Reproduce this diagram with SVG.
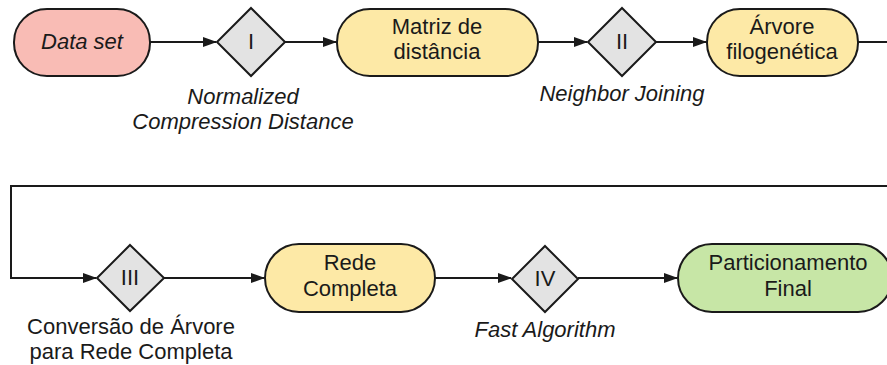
<svg xmlns="http://www.w3.org/2000/svg" width="887" height="365" viewBox="0 0 887 365">
  <style>
    .pill { stroke: #1a1a1a; stroke-width: 2; }
    .start { fill: #f9bcb5; }
    .step { fill: #fde9a6; }
    .end { fill: #c7e6a6; }
    .gate { fill: #e3e3e3; stroke: #1a1a1a; stroke-width: 2; }
    .wire { fill: none; stroke: #1a1a1a; stroke-width: 2; }
    text { font-family: "Liberation Sans", Arial, sans-serif; font-size: 22px; fill: #1a1a1a; text-anchor: middle; }
    .it { font-style: italic; }
  </style>
  <defs>
    <marker id="arrow" markerWidth="14" markerHeight="10" refX="13" refY="5" orient="auto" markerUnits="userSpaceOnUse">
      <path d="M0,0 L14,5 L0,10 Z" fill="#1a1a1a"/>
    </marker>
  </defs>
  <rect width="887" height="365" fill="#ffffff"/>

  <g id="connectors">
    <path class="wire" d="M150,42 H216" marker-end="url(#arrow)"/>
    <path class="wire" d="M285,42 H336" marker-end="url(#arrow)"/>
    <path class="wire" d="M538,42 H587" marker-end="url(#arrow)"/>
    <path class="wire" d="M656,42 H706" marker-end="url(#arrow)"/>
    <path class="wire" d="M858,42 H895 M895,186 H11 V278 H96" marker-end="url(#arrow)"/>
    <path class="wire" d="M164,278 H264" marker-end="url(#arrow)"/>
    <path class="wire" d="M435,278 H511" marker-end="url(#arrow)"/>
    <path class="wire" d="M578,278 H677" marker-end="url(#arrow)"/>
  </g>

  <g id="dataset">
    <rect class="pill start" x="14" y="9" width="136" height="67" rx="33" ry="33"/>
    <text class="it" x="82" y="49">Data set</text>
  </g>

  <g id="step-I">
    <polygon class="gate" points="251,8 285,42 251,76 217,42"/>
    <text x="251" y="49">I</text>
    <text class="it" x="243" y="104">Normalized</text>
    <text class="it" x="243" y="129">Compression Distance</text>
  </g>

  <g id="matriz">
    <rect class="pill step" x="337" y="9" width="201" height="67" rx="33" ry="33"/>
    <text x="437" y="34">Matriz de</text>
    <text x="437" y="59">distância</text>
  </g>

  <g id="step-II">
    <polygon class="gate" points="622,8 656,42 622,76 588,42"/>
    <text x="622" y="49">II</text>
    <text class="it" x="622" y="101">Neighbor Joining</text>
  </g>

  <g id="arvore">
    <rect class="pill step" x="707" y="9" width="151" height="67" rx="33" ry="33"/>
    <text x="782" y="34">Árvore</text>
    <text x="782" y="59">filogenética</text>
  </g>

  <g id="step-III">
    <polygon class="gate" points="130,245 164,278 130,311 97,278"/>
    <text x="130" y="285">III</text>
    <text x="131" y="334">Conversão de Árvore</text>
    <text x="131" y="359">para Rede Completa</text>
  </g>

  <g id="rede">
    <rect class="pill step" x="265" y="244" width="170" height="68" rx="34" ry="34"/>
    <text x="350" y="270">Rede</text>
    <text x="350" y="296">Completa</text>
  </g>

  <g id="step-IV">
    <polygon class="gate" points="545,246 578,279 545,312 512,279"/>
    <text x="545" y="286">IV</text>
    <text class="it" x="545" y="337">Fast Algorithm</text>
  </g>

  <g id="particionamento">
    <rect class="pill end" x="678" y="244" width="214" height="68" rx="34" ry="34"/>
    <text x="788" y="270">Particionamento</text>
    <text x="788" y="296">Final</text>
  </g>
</svg>
